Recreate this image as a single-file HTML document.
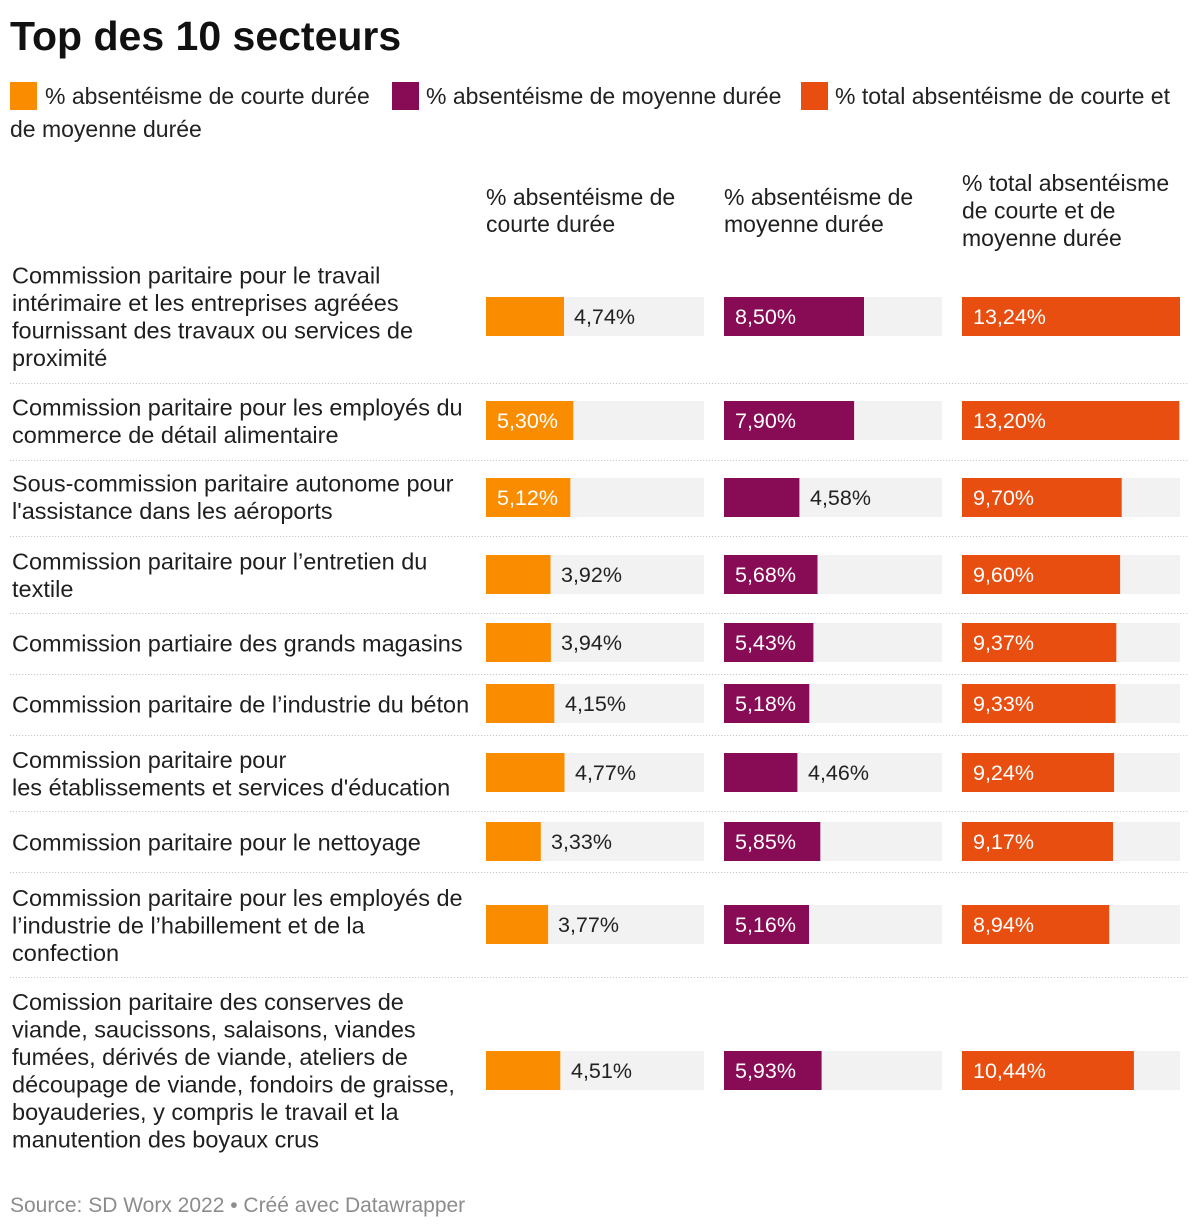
<!DOCTYPE html>
<html><head><meta charset="utf-8"><style>
html,body{margin:0;padding:0;background:#fff;}
svg{display:block;}
text{font-family:"Liberation Sans",Arial,sans-serif;}
.t{font-size:23.5px;fill:#1f1f1f;}
.h{font-size:23px;fill:#1f1f1f;}
.lg{font-size:23px;fill:#222;}
.v{font-size:21.5px;fill:#222;}
.vw{font-size:21.5px;fill:#fff;}
.sep{stroke:#c8c8c8;stroke-width:1;stroke-dasharray:1.2 1.8;}
.bg{fill:#f2f2f2;}
.o{fill:#fa8c00;}
.p{fill:#880c55;}
.r{fill:#e84e10;}
</style></head><body>
<svg width="1200" height="1228" viewBox="0 0 1200 1228" xmlns="http://www.w3.org/2000/svg">
<rect width="1200" height="1228" fill="#fff"/>
<text x="10" y="50" style="font-size:41px;font-weight:bold;fill:#111;">Top des 10 secteurs</text>

<!-- legend -->
<rect x="10" y="82" width="27" height="28" class="o"/>
<text x="45" y="104" class="lg">% absentéisme de courte durée</text>
<rect x="392" y="82" width="27" height="28" class="p"/>
<text x="426" y="104" class="lg">% absentéisme de moyenne durée</text>
<rect x="801" y="82" width="27" height="28" class="r"/>
<text x="835" y="104" class="lg">% total absentéisme de courte et</text>
<text x="10" y="137" class="lg">de moyenne durée</text>

<!-- headers -->
<text x="486" y="205" class="h">% absentéisme de</text>
<text x="486" y="232" class="h">courte durée</text>
<text x="724" y="205" class="h">% absentéisme de</text>
<text x="724" y="232" class="h">moyenne durée</text>
<text x="962" y="191" class="h">% total absentéisme</text>
<text x="962" y="218.5" class="h">de courte et de</text>
<text x="962" y="246" class="h">moyenne durée</text>

<!-- separators -->
<line x1="10" x2="1188" y1="383.5" y2="383.5" class="sep"/>
<line x1="10" x2="1188" y1="460.5" y2="460.5" class="sep"/>
<line x1="10" x2="1188" y1="536.5" y2="536.5" class="sep"/>
<line x1="10" x2="1188" y1="613.5" y2="613.5" class="sep"/>
<line x1="10" x2="1188" y1="674.5" y2="674.5" class="sep"/>
<line x1="10" x2="1188" y1="735.5" y2="735.5" class="sep"/>
<line x1="10" x2="1188" y1="811.5" y2="811.5" class="sep"/>
<line x1="10" x2="1188" y1="872.5" y2="872.5" class="sep"/>
<line x1="10" x2="1188" y1="977.5" y2="977.5" class="sep"/>

<!-- labels -->
<text x="12" y="283.5" class="t">Commission paritaire pour le travail</text>
<text x="12" y="311" class="t">intérimaire et les entreprises agréées</text>
<text x="12" y="338.5" class="t">fournissant des travaux ou services de</text>
<text x="12" y="366" class="t">proximité</text>

<text x="12" y="415.5" class="t">Commission paritaire pour les employés du</text>
<text x="12" y="443" class="t">commerce de détail alimentaire</text>

<text x="12" y="491.5" class="t">Sous-commission paritaire autonome pour</text>
<text x="12" y="519" class="t">l'assistance dans les aéroports</text>

<text x="12" y="569.5" class="t">Commission paritaire pour l’entretien du</text>
<text x="12" y="597" class="t">textile</text>

<text x="12" y="651.5" class="t">Commission partiaire des grands magasins</text>

<text x="12" y="712.5" class="t">Commission paritaire de l’industrie du béton</text>

<text x="12" y="768" class="t">Commission paritaire pour</text>
<text x="12" y="795.5" class="t">les établissements et services d'éducation</text>

<text x="12" y="850.5" class="t">Commission paritaire pour le nettoyage</text>

<text x="12" y="906" class="t">Commission paritaire pour les employés de</text>
<text x="12" y="933.5" class="t">l’industrie de l’habillement et de la</text>
<text x="12" y="961" class="t">confection</text>

<text x="12" y="1010" class="t">Comission paritaire des conserves de</text>
<text x="12" y="1037.5" class="t">viande, saucissons, salaisons, viandes</text>
<text x="12" y="1065" class="t">fumées, dérivés de viande, ateliers de</text>
<text x="12" y="1092.5" class="t">découpage de viande, fondoirs de graisse,</text>
<text x="12" y="1120" class="t">boyauderies, y compris le travail et la</text>
<text x="12" y="1147.5" class="t">manutention des boyaux crus</text>

<!-- Row 1 y=297 -->
<rect x="486" y="297" width="218" height="39" class="bg"/><rect x="486" y="297" width="78" height="39" class="o"/><text x="574" y="324" class="v">4,74%</text>
<rect x="724" y="297" width="218" height="39" class="bg"/><rect x="724" y="297" width="140" height="39" class="p"/><text x="735" y="324" class="vw">8,50%</text>
<rect x="962" y="297" width="218" height="39" class="bg"/><rect x="962" y="297" width="218" height="39" class="r"/><text x="973" y="324" class="vw">13,24%</text>

<!-- Row 2 y=401 -->
<rect x="486" y="401" width="218" height="39" class="bg"/><rect x="486" y="401" width="87.3" height="39" class="o"/><text x="497" y="428" class="vw">5,30%</text>
<rect x="724" y="401" width="218" height="39" class="bg"/><rect x="724" y="401" width="130.1" height="39" class="p"/><text x="735" y="428" class="vw">7,90%</text>
<rect x="962" y="401" width="218" height="39" class="bg"/><rect x="962" y="401" width="217.3" height="39" class="r"/><text x="973" y="428" class="vw">13,20%</text>

<!-- Row 3 y=478 -->
<rect x="486" y="478" width="218" height="39" class="bg"/><rect x="486" y="478" width="84.3" height="39" class="o"/><text x="497" y="505" class="vw">5,12%</text>
<rect x="724" y="478" width="218" height="39" class="bg"/><rect x="724" y="478" width="75.4" height="39" class="p"/><text x="810" y="505" class="v">4,58%</text>
<rect x="962" y="478" width="218" height="39" class="bg"/><rect x="962" y="478" width="159.7" height="39" class="r"/><text x="973" y="505" class="vw">9,70%</text>

<!-- Row 4 y=555 -->
<rect x="486" y="555" width="218" height="39" class="bg"/><rect x="486" y="555" width="64.5" height="39" class="o"/><text x="561" y="582" class="v">3,92%</text>
<rect x="724" y="555" width="218" height="39" class="bg"/><rect x="724" y="555" width="93.5" height="39" class="p"/><text x="735" y="582" class="vw">5,68%</text>
<rect x="962" y="555" width="218" height="39" class="bg"/><rect x="962" y="555" width="158.1" height="39" class="r"/><text x="973" y="582" class="vw">9,60%</text>

<!-- Row 5 y=623 -->
<rect x="486" y="623" width="218" height="39" class="bg"/><rect x="486" y="623" width="64.9" height="39" class="o"/><text x="561" y="650" class="v">3,94%</text>
<rect x="724" y="623" width="218" height="39" class="bg"/><rect x="724" y="623" width="89.4" height="39" class="p"/><text x="735" y="650" class="vw">5,43%</text>
<rect x="962" y="623" width="218" height="39" class="bg"/><rect x="962" y="623" width="154.3" height="39" class="r"/><text x="973" y="650" class="vw">9,37%</text>

<!-- Row 6 y=684 -->
<rect x="486" y="684" width="218" height="39" class="bg"/><rect x="486" y="684" width="68.3" height="39" class="o"/><text x="565" y="711" class="v">4,15%</text>
<rect x="724" y="684" width="218" height="39" class="bg"/><rect x="724" y="684" width="85.3" height="39" class="p"/><text x="735" y="711" class="vw">5,18%</text>
<rect x="962" y="684" width="218" height="39" class="bg"/><rect x="962" y="684" width="153.6" height="39" class="r"/><text x="973" y="711" class="vw">9,33%</text>

<!-- Row 7 y=753 -->
<rect x="486" y="753" width="218" height="39" class="bg"/><rect x="486" y="753" width="78.5" height="39" class="o"/><text x="575" y="780" class="v">4,77%</text>
<rect x="724" y="753" width="218" height="39" class="bg"/><rect x="724" y="753" width="73.4" height="39" class="p"/><text x="808" y="780" class="v">4,46%</text>
<rect x="962" y="753" width="218" height="39" class="bg"/><rect x="962" y="753" width="152.1" height="39" class="r"/><text x="973" y="780" class="vw">9,24%</text>

<!-- Row 8 y=822 -->
<rect x="486" y="822" width="218" height="39" class="bg"/><rect x="486" y="822" width="54.8" height="39" class="o"/><text x="551" y="849" class="v">3,33%</text>
<rect x="724" y="822" width="218" height="39" class="bg"/><rect x="724" y="822" width="96.3" height="39" class="p"/><text x="735" y="849" class="vw">5,85%</text>
<rect x="962" y="822" width="218" height="39" class="bg"/><rect x="962" y="822" width="151" height="39" class="r"/><text x="973" y="849" class="vw">9,17%</text>

<!-- Row 9 y=905 -->
<rect x="486" y="905" width="218" height="39" class="bg"/><rect x="486" y="905" width="62.1" height="39" class="o"/><text x="558" y="932" class="v">3,77%</text>
<rect x="724" y="905" width="218" height="39" class="bg"/><rect x="724" y="905" width="85" height="39" class="p"/><text x="735" y="932" class="vw">5,16%</text>
<rect x="962" y="905" width="218" height="39" class="bg"/><rect x="962" y="905" width="147.2" height="39" class="r"/><text x="973" y="932" class="vw">8,94%</text>

<!-- Row 10 y=1051 -->
<rect x="486" y="1051" width="218" height="39" class="bg"/><rect x="486" y="1051" width="74.3" height="39" class="o"/><text x="571" y="1078" class="v">4,51%</text>
<rect x="724" y="1051" width="218" height="39" class="bg"/><rect x="724" y="1051" width="97.6" height="39" class="p"/><text x="735" y="1078" class="vw">5,93%</text>
<rect x="962" y="1051" width="218" height="39" class="bg"/><rect x="962" y="1051" width="171.9" height="39" class="r"/><text x="973" y="1078" class="vw">10,44%</text>

<!-- source -->
<text x="10" y="1212" style="font-size:21px;fill:#8c8c8c;">Source: SD Worx 2022 • Créé avec Datawrapper</text>
</svg>
</body></html>
